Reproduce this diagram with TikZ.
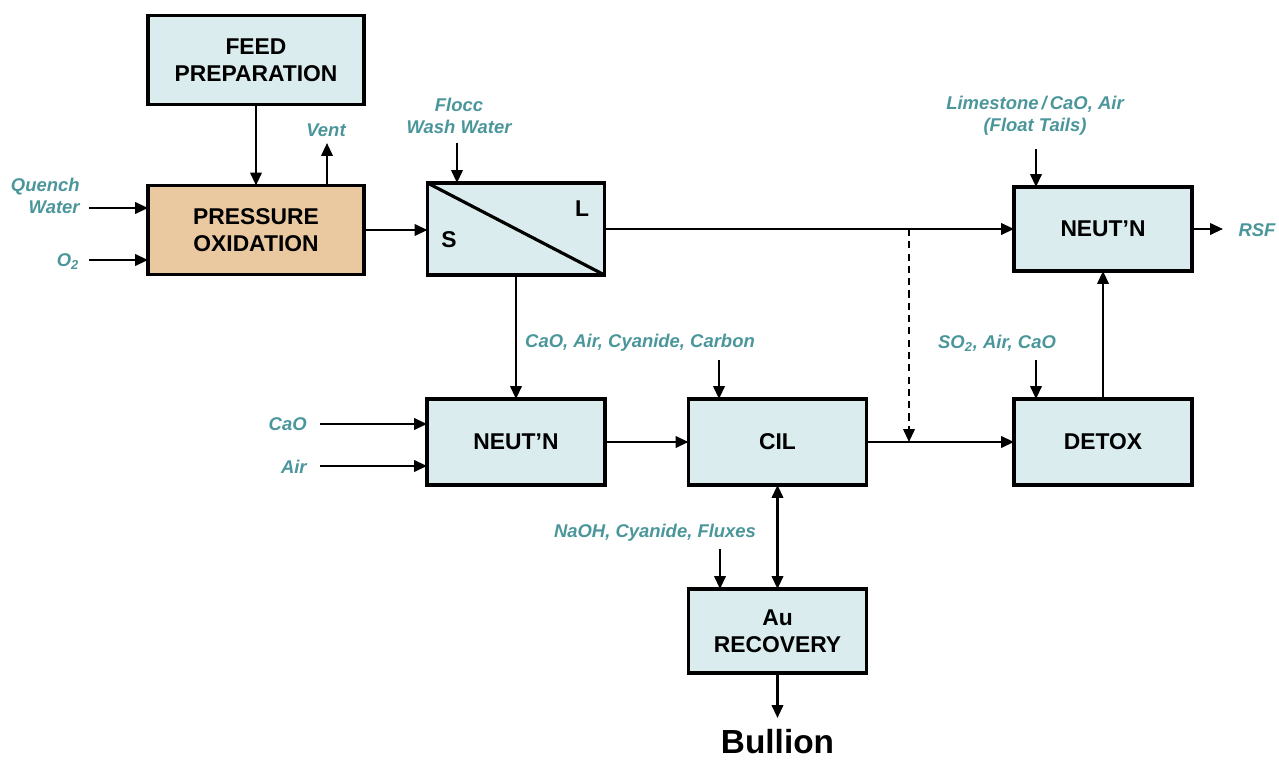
\documentclass[tikz,border=0pt]{standalone}
\usepackage{fontspec}
\setmainfont{Liberation Sans}
\usepackage{tikz}
\usetikzlibrary{arrows.meta,positioning}
\definecolor{boxbg}{HTML}{DAECEE}
\definecolor{poxbg}{HTML}{EBC9A0}
\definecolor{labc}{HTML}{4A969B}
\tikzset{
  ar/.style={-{Triangle[length=2.6mm,width=2.3mm]},line width=1.3pt},
  dar/.style={{Triangle[length=2.6mm,width=2.3mm]}-{Triangle[length=2.6mm,width=2.3mm]},line width=1.3pt},
  box/.style={draw,line width=1.8pt,fill=boxbg,align=center,outer sep=0pt,inner sep=0pt,
    font=\bfseries\fontsize{13}{15.5}\selectfont,minimum width=3.56cm,minimum height=1.72cm},
  txt/.style={font=\bfseries\fontsize{13}{15.5}\selectfont,inner sep=0pt},
  lab/.style={labc,font=\bfseries\itshape\fontsize{10.5}{12.5}\selectfont,align=center,inner sep=0pt}
}
\begin{document}
\begin{tikzpicture}[x=0.02cm,y=-0.02cm]
\useasboundingbox (0,0) rectangle (1279,760);
% main boxes
\node[box,minimum width=4.32cm,minimum height=1.78cm] (feed) at (256,60) {FEED\\PREPARATION};
\node[box,fill=poxbg,minimum width=4.32cm,minimum height=1.78cm] (pox) at (256,230) {PRESSURE\\OXIDATION};
\node[box,minimum width=3.54cm,minimum height=1.84cm] (ccd) at (516,229) {};
\draw[line width=1.8pt] (ccd.north west) -- (ccd.south east);
\node[txt] (liq) at (582,209) {L};
\node[txt] (sol) at (449,240) {S};
\node[box,minimum height=1.68cm] (neut1) at (1103,229) {NEUT’N};
\node[box] (neut2) at (516,442) {NEUT’N};
\node[box] (cil) at (777.5,442) {CIL};
\node[box] (detox) at (1103,442) {DETOX};
\node[box,minimum height=1.68cm] (aurec) at (777.5,631) {Au\\RECOVERY};
\node[font=\bfseries\fontsize{19}{22}\selectfont,inner sep=0pt] (bull) at (777.5,742) {Bullion};
% stream labels
\node[lab,align=right,anchor=east] (quench) at (80,196) {Quench\\Water};
\node[lab] (o2) at (68,262) {O\textsubscript{2}};
\node[lab] (vent) at (326,130) {Vent};
\node[lab] (flocc) at (459,116) {Flocc\\Wash Water};
\node[lab] (lime) at (1035,116) {Limestone\,/\,CaO, Air\\(Float Tails)};
\node[lab] (rsf) at (1257,230) {RSF};
\node[lab] (cilreag) at (640,343) {CaO, Air, Cyanide, Carbon};
\node[lab] (so2) at (997,343) {SO\textsubscript{2}, Air, CaO};
\node[lab,anchor=east] (cao) at (307,424) {CaO};
\node[lab,anchor=east] (air) at (307,467) {Air};
\node[lab] (naoh) at (655,533) {NaOH, Cyanide, Fluxes};
% free ends
\coordinate (ventend) at (327,143);
\coordinate (qin) at (89,208);
\coordinate (oin) at (89,260);
\coordinate (floccin) at (457,143);
\coordinate (tap) at (909,229);
\coordinate (caoin) at (320,424);
\coordinate (airin) at (320,466);
\coordinate (cilin) at (719,360);
\coordinate (so2in) at (1036,360);
\coordinate (limein) at (1036,149);
\coordinate (rsfend) at (1223,229);
\coordinate (naohin) at (720,549);
\coordinate (bullend) at (777.5,718);
% streams
\draw[ar] (feed) -- (pox);
\draw[ar] (pox.north -| ventend) -- (ventend);
\draw[ar] (qin) -- (qin -| pox.west);
\draw[ar] (oin) -- (oin -| pox.west);
\draw[ar] (pox.east) -- (pox.east -| ccd.west);
\draw[ar] (floccin) -- (floccin |- ccd.north);
\draw[ar] (ccd.east) -- (neut1.west);
\draw[ar,dash pattern=on 4pt off 3pt] (tap) -- (tap |- cil.east);
\draw[ar] (ccd.south) -- (neut2.north);
\draw[ar] (caoin) -- (caoin -| neut2.west);
\draw[ar] (airin) -- (airin -| neut2.west);
\draw[ar] (neut2) -- (cil);
\draw[ar] (cilin) -- (cilin |- cil.north);
\draw[ar] (cil) -- (detox);
\draw[ar] (so2in) -- (so2in |- detox.north);
\draw[ar] (detox) -- (neut1);
\draw[ar] (limein) -- (limein |- neut1.north);
\draw[ar] (neut1.east) -- (rsfend);
\draw[dar] (cil) -- (aurec);
\draw[ar] (naohin) -- (naohin |- aurec.north);
\draw[ar] (aurec) -- (bullend);
\end{tikzpicture}
\end{document}
